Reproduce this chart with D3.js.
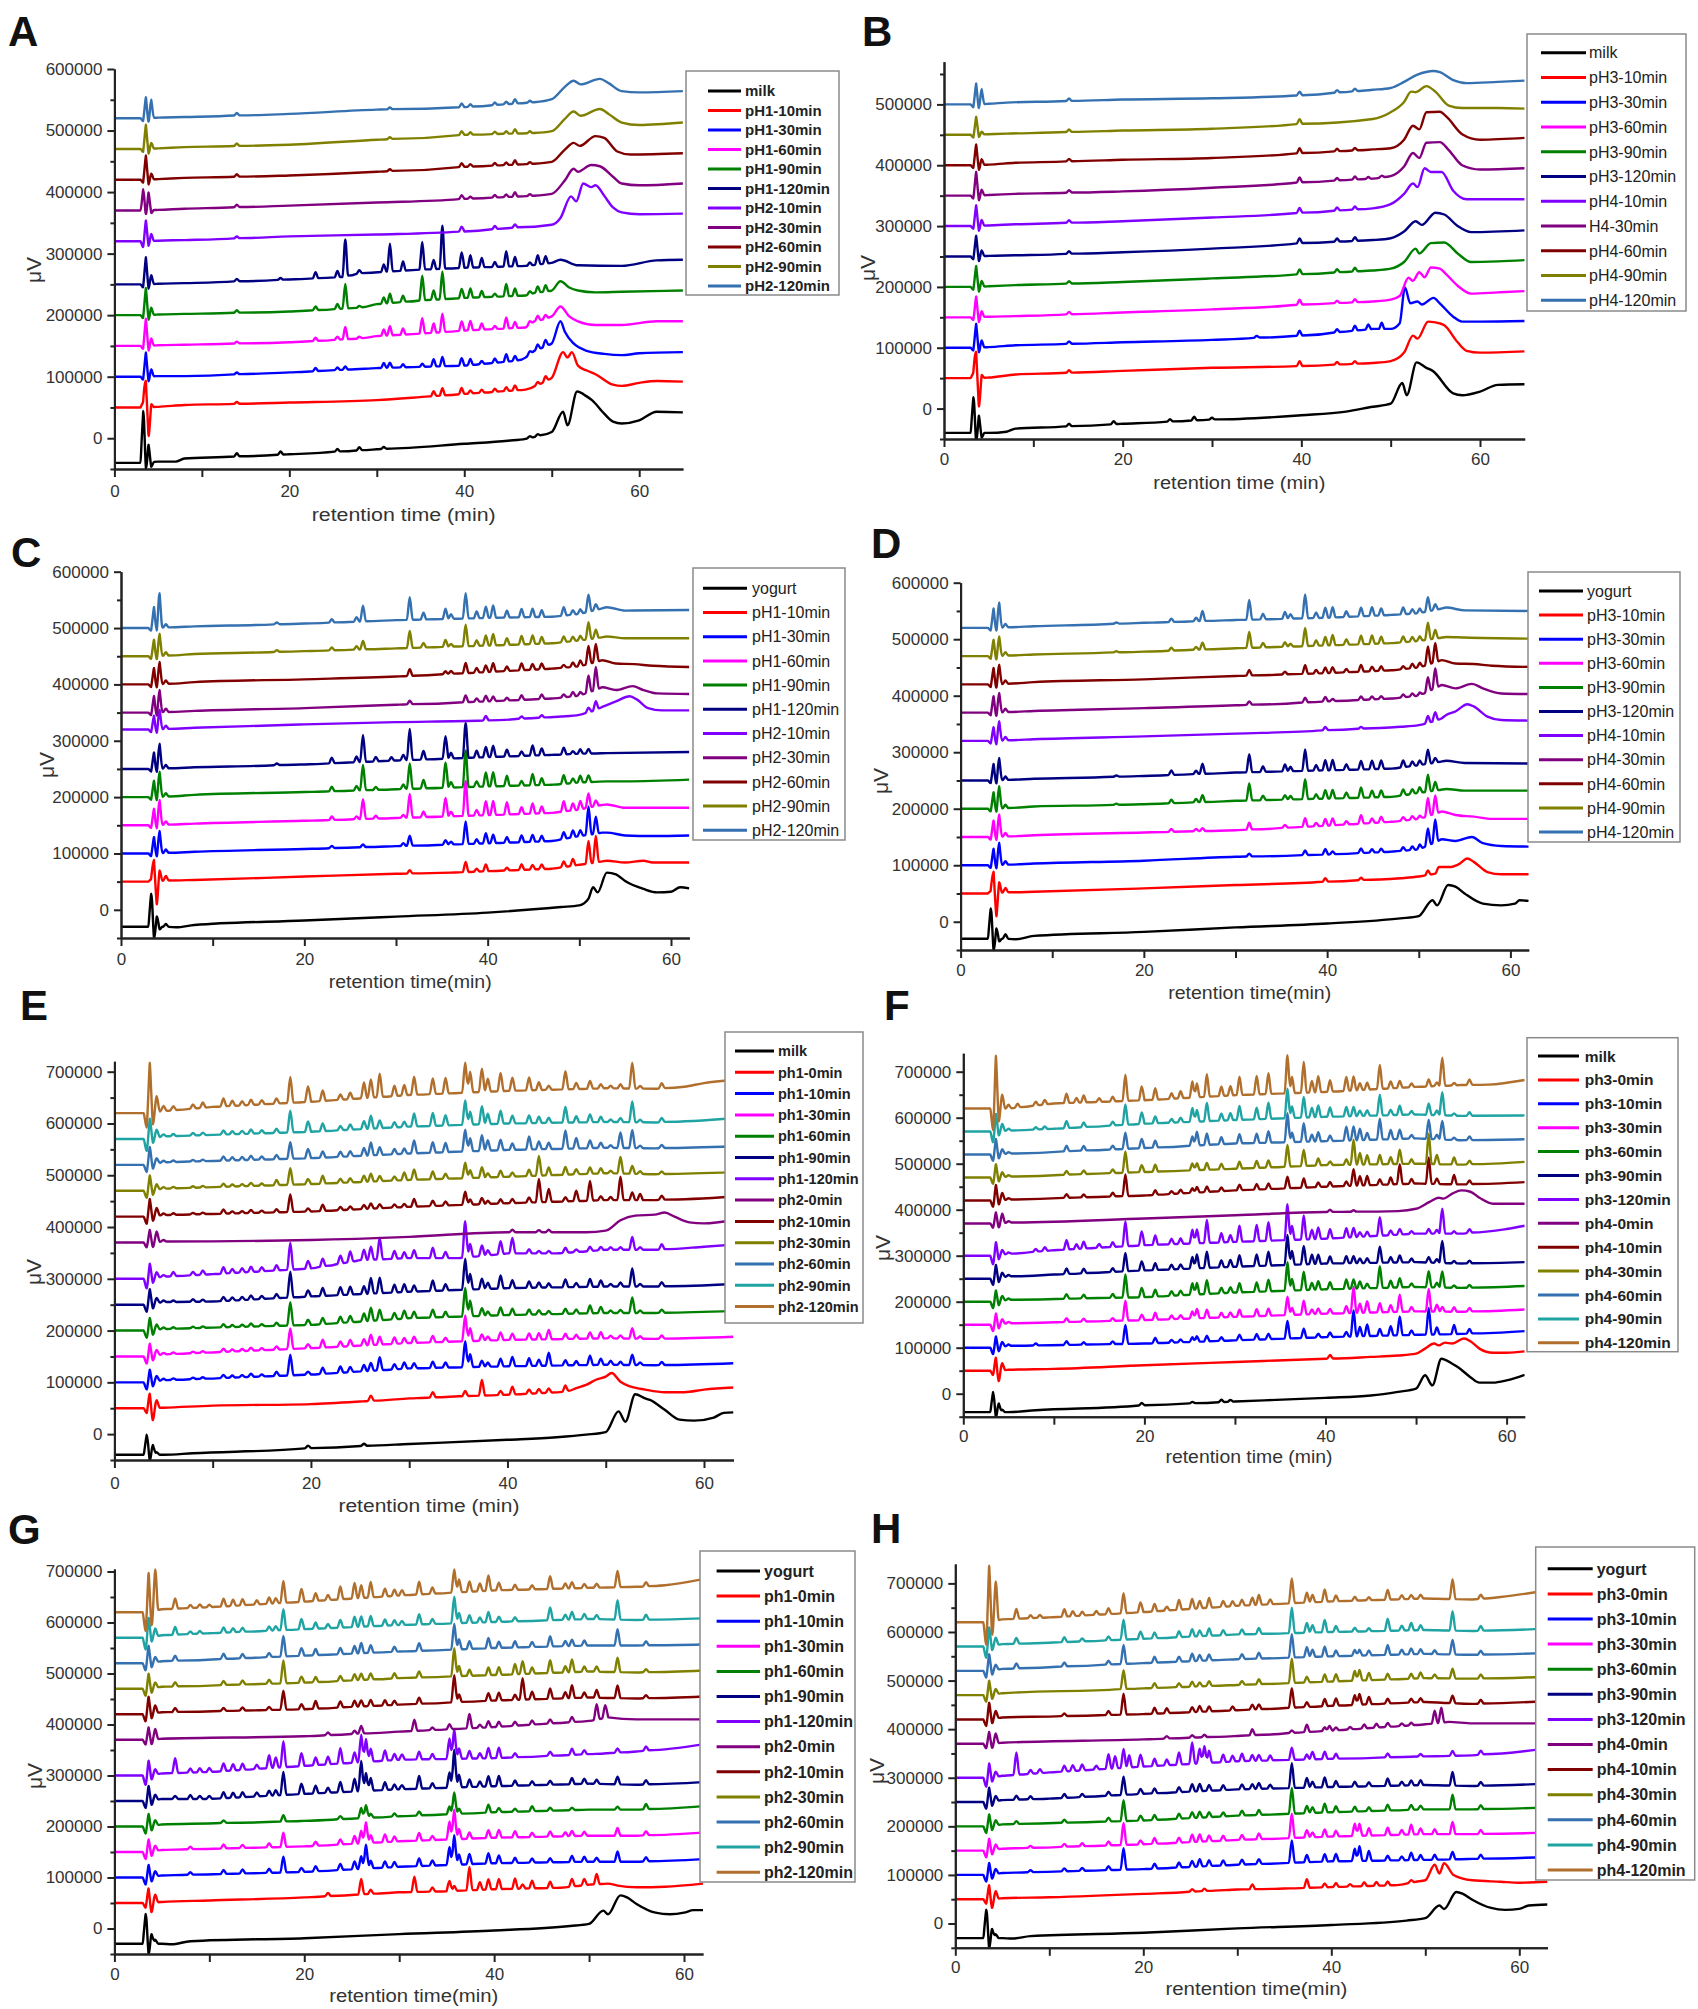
<!DOCTYPE html>
<html>
<head>
<meta charset="utf-8">
<script src="https://cdn.jsdelivr.net/npm/d3@7"></script>
<style>
  body { margin: 0; background: #fff; }
  text { font-family: "Liberation Sans", Arial, sans-serif; }
</style>
</head>
<body>
<div id="chart"></div>
<script>
// All values in thousands of µV (k), retention times in minutes.
// Each trace = baseline knots [t, v] + narrow peak heights on a shared list of peak times.

const colors11 = ['#000000', '#ff0000', '#0000ff', '#ff00ff', '#008000', '#000080', '#8000ff', '#800080', '#800000', '#808000', '#3571b0'];
const colors13 = colors11.concat(['#1fa3a3', '#b06f2c']);

// ---------- Panel A ----------
const labelsA = ['milk', 'pH1-10min', 'pH1-30min', 'pH1-60min', 'pH1-90min', 'pH1-120min', 'pH2-10min', 'pH2-30min', 'pH2-60min', 'pH2-90min', 'pH2-120min'];
const timesA = [3.3, 3.6, 3.9, 4.2, 14, 19, 23, 25.5, 26.4, 28, 30.8, 31.5, 33, 35.2, 36.5, 37.5, 39.7, 40.7, 42, 43.5, 44.8, 45.8, 47.5, 48.4, 49.3];
const heightsA = [
  [85, -15, 30, -8, 5, 5, 0, 4, 0, 5, 3, 0, 0, 0, 0, 0, 0, 0, 0, 0, 0, 0, 3, 3, 0],
  [10, 45, -50, 5, 3, 0, 0, 0, 0, 0, 0, 0, 0, 0, 8, 12, 10, 5, 5, 5, 6, 8, 0, 5, 8],
  [-5, 40, -10, 12, 3, 0, 5, 4, 5, 0, 8, 8, 5, 5, 12, 15, 12, 10, 5, 7, 12, 8, 5, 8, 10],
  [-5, 45, -10, 12, 3, 0, 5, 5, 20, 3, 10, 15, 10, 25, 15, 30, 15, 15, 10, 5, 18, 10, 5, 8, 6],
  [-5, 45, -10, 12, 4, 0, 6, 8, 40, 3, 10, 15, 10, 40, 15, 45, 15, 15, 10, 5, 20, 12, 5, 10, 10],
  [-5, 45, -10, 15, 4, 3, 10, 10, 60, 5, 12, 45, 15, 45, 15, 70, 25, 20, 15, 8, 25, 15, 5, 15, 12],
  [-10, 35, -10, 12, 3, 0, 0, 0, 0, 0, 0, 0, 0, 0, 0, 0, 8, 0, 0, 5, 0, 5, 0, 0, 0],
  [35, -10, 30, -5, 4, 0, 0, 0, 0, 0, 0, 0, 0, 0, 0, 0, 6, 3, 0, 4, 4, 7, 3, 0, 0],
  [-5, 40, -10, 10, 4, 0, 0, 0, 0, 0, 0, 3, 0, 0, 0, 0, 6, 4, 0, 4, 4, 7, 3, 0, 0],
  [-5, 40, -10, 10, 4, 0, 0, 0, 0, 0, 0, 3, 0, 0, 0, 0, 6, 4, 0, 4, 4, 7, 3, 0, 0],
  [-5, 35, -10, 30, 4, 0, 0, 0, 0, 0, 0, 3, 0, 0, 0, 0, 6, 4, 0, 4, 4, 7, 3, 0, 0]
];
const baseA = [
  [[0, -40], [3.1, -40], [5, -38], [7, -38], [8, -33], [20, -26], [30, -18], [40, -9], [45, -4], [47, -1], [48, 2], [50, 10], [51.3, 43], [51.8, 21], [52.9, 76], [54, 68], [54.6, 62], [56, 40], [57, 27], [58, 24], [60, 29], [62, 43], [65, 42]],
  [[0, 50], [3.1, 50], [5, 51], [8, 54], [20, 58], [30, 62], [36, 68], [47, 79], [48.5, 87], [50, 98], [51.3, 140], [51.8, 131], [52.3, 140], [53, 118], [54, 110], [55, 104], [57, 87], [58, 85], [60, 90], [62, 93], [65, 92]],
  [[0, 100], [3.1, 100], [5, 101], [8, 101], [20, 107], [30, 114], [40, 118], [46, 126], [47, 131], [48, 142], [49, 148], [50, 154], [51, 190], [51.5, 173], [52.5, 154], [54, 142], [56, 137], [58, 135], [60, 138], [65, 140]],
  [[0, 150], [3.1, 150], [5, 151], [8, 152], [20, 156], [28, 162], [30, 166], [35, 170], [40, 175], [47, 180], [48, 190], [49, 193], [50, 198], [51, 214], [52, 198], [53, 190], [55, 184], [58, 184], [62, 190], [65, 190]],
  [[0, 200], [3.1, 200], [5, 201], [8, 202], [20, 206], [28, 212], [30, 218], [35, 224], [40, 228], [47, 232], [48, 236], [50, 240], [51, 255], [52, 245], [53, 240], [55, 237], [58, 238], [65, 240]],
  [[0, 250], [3.1, 250], [5, 251], [8, 252], [20, 258], [26, 262], [28, 268], [35, 274], [40, 277], [47, 280], [50, 285], [51, 290], [53, 281], [58, 280], [62, 289], [65, 290]],
  [[0, 320], [3.1, 320], [5, 321], [8, 322], [20, 328], [30, 331], [40, 336], [50, 347], [51, 358], [52.2, 393], [52.8, 385], [53.6, 414], [54.5, 408], [55, 411], [56, 394], [57, 375], [58, 367], [60, 364], [65, 365]],
  [[0, 370], [2.8, 370], [5, 371], [8, 373], [20, 378], [30, 383], [40, 389], [48, 394], [50, 397], [51.5, 419], [52.5, 438], [53, 433], [54.5, 444], [55.5, 442], [57, 425], [58, 414], [60, 411], [65, 414]],
  [[0, 420], [3.1, 420], [5, 421], [8, 423], [20, 427], [30, 433], [40, 441], [48, 446], [50, 449], [51.5, 469], [52.5, 480], [53.2, 475], [55, 491], [56, 488], [57.5, 466], [59, 461], [65, 463]],
  [[0, 470], [3.1, 470], [5, 471], [8, 473], [20, 477], [30, 485], [40, 493], [48, 496], [50, 499], [51.5, 519], [52.5, 531], [53.3, 524], [55.5, 535], [56.5, 527], [58, 513], [60, 509], [65, 513]],
  [[0, 520], [3.1, 520], [5, 521], [8, 522], [20, 527], [30, 534], [40, 538], [48, 546], [50, 551], [51.5, 571], [52.5, 581], [53.3, 575], [55.5, 584], [56.5, 577], [58, 564], [60, 562], [65, 564]]
];

// ---------- Panel B ----------
const labelsB = ['milk', 'pH3-10min', 'pH3-30min', 'pH3-60min', 'pH3-90min', 'pH3-120min', 'pH4-10min', 'H4-30min', 'pH4-60min', 'pH4-90min', 'pH4-120min'];
const timesB = [3.3, 3.6, 3.9, 4.2, 14, 19, 25.3, 28, 30, 35, 39.8, 44, 46, 47.5, 49];
const heightsB = [
  [60, -20, 30, -8, 4, 5, 4, 6, 3, 0, 0, 0, 0, 0, 0],
  [10, 45, -50, 5, 4, 0, 0, 0, 0, 0, 8, 4, 4, 0, 0],
  [-5, 40, -10, 12, 4, 0, 0, 0, 0, 3, 8, 5, 8, 8, 10],
  [-5, 35, -10, 10, 4, 0, 0, 0, 0, 0, 8, 4, 5, 0, 0],
  [-5, 35, -10, 10, 4, 0, 0, 0, 0, 0, 8, 5, 6, 0, 0],
  [-5, 35, -10, 10, 4, 0, 0, 0, 0, 0, 8, 5, 6, 0, 0],
  [-5, 35, -10, 10, 4, 0, 0, 0, 0, 0, 8, 5, 5, 0, 0],
  [-5, 40, -10, 10, 4, 0, 0, 0, 0, 0, 8, 4, 5, 3, 3],
  [-5, 35, -10, 10, 4, 0, 0, 0, 0, 0, 8, 4, 4, 0, 0],
  [-5, 30, -5, 5, 4, 0, 0, 0, 0, 0, 8, 0, 0, 0, 0],
  [-5, 35, -10, 25, 4, 0, 0, 0, 0, 0, 6, 4, 4, 0, 0]
];
const baseB = [
  [[0, -40], [3.1, -40], [5, -40], [7, -38], [8, -33], [20, -25], [30, -18], [40, -11], [45, -5], [48, 3], [50, 8], [51.3, 42], [51.8, 22], [52.9, 76], [54, 67], [54.7, 62], [57, 25], [58, 22], [60, 28], [62, 39], [65, 40]],
  [[0, 50], [3.1, 50], [5, 51], [8, 56], [20, 62], [30, 67], [40, 70], [48, 75], [50, 78], [51.5, 92], [52.5, 120], [53, 115], [54.2, 143], [55.5, 140], [56, 137], [57.5, 109], [58.5, 95], [60, 92], [65, 94]],
  [[0, 100], [3.1, 100], [5, 101], [8, 104], [20, 109], [30, 113], [40, 120], [48, 131], [50, 131], [51, 140], [51.6, 199], [52.2, 173], [53, 176], [53.5, 171], [54.8, 182], [55.5, 173], [57, 151], [58, 143], [60, 143], [65, 144]],
  [[0, 150], [3.1, 150], [5, 151], [8, 152], [20, 158], [30, 163], [40, 171], [48, 176], [50, 179], [51, 185], [52, 215], [52.5, 210], [53.2, 224], [53.8, 216], [54.5, 232], [55.5, 230], [56.2, 221], [57.5, 202], [59, 189], [62, 191], [65, 193]],
  [[0, 200], [3.1, 200], [5, 201], [8, 203], [20, 208], [30, 214], [40, 221], [48, 227], [50, 230], [51.5, 241], [52.8, 263], [53.2, 255], [54.5, 272], [56, 273], [57.5, 255], [59, 241], [62, 242], [65, 244]],
  [[0, 250], [3.1, 250], [5, 251], [8, 252], [20, 257], [30, 263], [40, 272], [48, 277], [50, 280], [51.5, 291], [52.8, 308], [53.5, 302], [55, 322], [56, 319], [57.5, 300], [59, 290], [65, 293]],
  [[0, 300], [3.1, 300], [5, 301], [8, 303], [20, 308], [30, 314], [40, 322], [48, 329], [50, 336], [51.5, 353], [52.5, 370], [53, 364], [53.8, 395], [54.5, 389], [55.7, 389], [57, 358], [58.5, 344], [65, 344]],
  [[0, 350], [3.1, 350], [5, 351], [8, 353], [20, 357], [30, 363], [40, 372], [48, 378], [50, 382], [51.5, 398], [52.5, 420], [53.2, 412], [54, 437], [55.5, 438], [56.5, 425], [58, 400], [60, 393], [65, 395]],
  [[0, 400], [3.1, 400], [5, 401], [8, 404], [20, 409], [30, 412], [40, 420], [48, 426], [50, 428], [51.5, 442], [52.5, 465], [53.2, 459], [54, 487], [55.5, 488], [56.3, 479], [58, 451], [60, 442], [65, 445]],
  [[0, 450], [3.1, 450], [5, 451], [7, 452], [20, 457], [30, 460], [40, 468], [48, 476], [50, 487], [51.5, 504], [52.3, 521], [52.8, 520], [54, 530], [55, 521], [56.5, 498], [58, 494], [62, 494], [65, 493]],
  [[0, 500], [3.1, 500], [5, 501], [7, 503], [20, 508], [30, 510], [40, 515], [48, 524], [50, 527], [51.5, 537], [53, 549], [54.8, 555], [55.5, 553], [57, 540], [58.5, 535], [62, 537], [65, 539]]
];

// ---------- Panel C ----------
const labelsC = ['yogurt', 'pH1-10min', 'pH1-30min', 'pH1-60min', 'pH1-90min', 'pH1-120min', 'pH2-10min', 'pH2-30min', 'pH2-60min', 'pH2-90min', 'pH2-120min'];
const timesC = [3.3, 3.6, 3.9, 4.2, 4.9, 17, 23, 25.7, 26.4, 27.8, 29.5, 30.8, 31.5, 33, 35.4, 36, 37.6, 38.8, 39.8, 40.6, 42.1, 43.7, 44.9, 45.9, 48.3, 49.3, 50.1, 51, 51.8, 52.9];
const heightsC = [
  [60, -25, 20, -5, 5, 0, 0, 0, 0, 0, 0, 0, 0, 0, 0, 0, 0, 0, 0, 0, 0, 0, 0, 0, 0, 0, 0, 0, 0, 0],
  [5, 40, -45, 20, 8, 0, 0, 0, 0, 0, 0, 0, 6, 0, 0, 0, 18, 5, 12, 0, 5, 10, 8, 8, 10, 12, 0, 40, 47, 0],
  [-5, 30, -10, 40, 6, 0, 4, 0, 5, 0, 0, 5, 18, 0, 8, 5, 40, 8, 18, 15, 10, 12, 12, 10, 12, 12, 10, 50, 30, 0],
  [-5, 30, -10, 45, 6, 0, 6, 5, 35, 5, 0, 5, 42, 10, 33, 8, 62, 10, 25, 25, 22, 12, 18, 12, 18, 12, 15, 25, 10, 0],
  [-5, 30, -10, 45, 6, 0, 8, 8, 45, 5, 0, 8, 45, 15, 45, 10, 65, 10, 25, 25, 18, 8, 20, 12, 15, 8, 12, 12, 0, 0],
  [-5, 30, -10, 45, 6, 3, 10, 10, 48, 8, 6, 10, 55, 15, 40, 10, 62, 12, 18, 20, 12, 8, 18, 12, 12, 5, 8, 8, 0, 0],
  [-5, 25, -10, 35, 6, 0, 0, 0, 0, 0, 0, 0, 0, 0, 0, 0, 0, 0, 8, 0, 0, 4, 0, 4, 0, 0, 0, 8, 15, 0],
  [-5, 30, -10, 40, 6, 0, 0, 0, 0, 0, 0, 0, 6, 0, 0, 0, 12, 6, 10, 8, 5, 8, 0, 8, 5, 8, 6, 30, 40, 0],
  [-5, 30, -10, 40, 6, 0, 0, 0, 0, 0, 0, 0, 12, 0, 5, 5, 18, 8, 12, 15, 8, 12, 10, 10, 5, 8, 10, 32, 32, 0],
  [-5, 30, -10, 40, 6, 3, 5, 6, 15, 0, 0, 0, 30, 8, 12, 5, 38, 10, 18, 20, 12, 15, 15, 12, 10, 8, 8, 30, 15, 0],
  [-5, 38, -10, 62, 6, 3, 6, 8, 28, 0, 0, 0, 40, 12, 18, 8, 45, 12, 20, 22, 12, 15, 15, 12, 15, 8, 8, 30, 10, 0]
];
const baseC = [
  [[0, -30], [3.1, -30], [5, -30], [6, -31], [8, -27], [20, -19], [30, -12], [40, -5], [48, 5], [50, 8], [51, 20], [51.5, 40], [52, 31], [53, 66], [54, 63], [55, 51], [57, 37], [58.5, 31], [60, 32], [61, 40], [62, 38]],
  [[0, 50], [3.1, 50], [5, 52], [8, 53], [20, 59], [30, 64], [36, 66], [47, 73], [50, 80], [52.5, 86], [53, 87], [55, 84], [57, 87], [58, 84], [62, 84]],
  [[0, 100], [3.1, 100], [5, 101], [8, 103], [20, 108], [30, 113], [40, 118], [47, 122], [50, 131], [52.5, 137], [53, 137], [55, 132], [58, 131], [62, 132]],
  [[0, 150], [3.1, 150], [5, 151], [8, 153], [20, 158], [30, 163], [40, 168], [47, 172], [50, 178], [52, 185], [53, 187], [55, 181], [62, 181]],
  [[0, 200], [3.1, 200], [5, 201], [8, 204], [20, 209], [30, 214], [40, 219], [47, 222], [50, 226], [53, 228], [55, 228], [62, 231]],
  [[0, 250], [3.1, 250], [5, 251], [8, 253], [20, 258], [30, 265], [40, 271], [47, 275], [50, 277], [53, 278], [62, 280]],
  [[0, 320], [3.1, 320], [5, 321], [8, 323], [20, 329], [30, 333], [40, 336], [48, 343], [50, 346], [51.3, 352], [52.5, 360], [54, 370], [55.5, 379], [56.3, 373], [57.5, 358], [59, 354], [62, 354]],
  [[0, 350], [3.1, 350], [5, 351], [8, 353], [20, 358], [30, 364], [40, 370], [47, 375], [50, 380], [52.5, 395], [54, 390], [55.8, 397], [57, 390], [58.5, 384], [62, 383]],
  [[0, 400], [3.1, 400], [5, 401], [8, 404], [20, 409], [30, 414], [40, 422], [47, 428], [50, 432], [52.5, 443], [54, 437], [56, 436], [58, 433], [62, 431]],
  [[0, 450], [3.1, 450], [5, 451], [8, 454], [20, 459], [30, 464], [40, 469], [47, 473], [50, 478], [53, 485], [55, 482], [62, 482]],
  [[0, 500], [3.1, 500], [5, 501], [8, 503], [20, 508], [30, 514], [40, 518], [47, 520], [50, 525], [53, 537], [55, 531], [62, 532]]
];

// ---------- Panel D ----------
const labelsD = ['yogurt', 'pH3-10min', 'pH3-30min', 'pH3-60min', 'pH3-90min', 'pH3-120min', 'pH4-10min', 'pH4-30min', 'pH4-60min', 'pH4-90min', 'pH4-120min'];
const timesD = [3.3, 3.6, 3.9, 4.2, 4.9, 17, 23, 25.7, 26.4, 27.8, 29.5, 30.8, 31.5, 33, 35.4, 36, 37.6, 38.8, 39.8, 40.6, 42.1, 43.7, 44.9, 45.9, 48.3, 49.3, 50.1, 51, 51.8, 52.9];
const heightsD = [
  [55, -25, 20, -5, 8, 0, 0, 0, 0, 0, 0, 0, 0, 0, 0, 0, 0, 0, 0, 0, 0, 0, 0, 0, 0, 0, 0, 0, 0, 0],
  [5, 40, -45, 20, 8, 0, 0, 0, 0, 0, 0, 0, 0, 0, 0, 0, 0, 0, 6, 0, 0, 4, 0, 0, 0, 0, 0, 8, 0, 0],
  [-5, 30, -10, 40, 6, 0, 0, 0, 0, 0, 0, 0, 5, 0, 0, 0, 8, 0, 10, 5, 0, 8, 6, 6, 6, 6, 8, 30, 40, 0],
  [-5, 30, -10, 40, 6, 0, 5, 4, 5, 0, 0, 0, 12, 0, 5, 0, 15, 6, 12, 12, 6, 15, 8, 10, 6, 6, 5, 32, 32, 0],
  [-5, 30, -10, 40, 6, 2, 6, 6, 12, 0, 0, 0, 30, 8, 8, 6, 35, 8, 15, 15, 10, 18, 12, 12, 10, 8, 10, 30, 15, 0],
  [-5, 30, -10, 40, 6, 2, 8, 6, 18, 0, 0, 0, 32, 10, 12, 8, 38, 10, 18, 18, 10, 15, 15, 15, 12, 8, 8, 25, 8, 0],
  [-5, 25, -10, 35, 6, 0, 0, 0, 0, 0, 0, 0, 0, 0, 0, 0, 0, 0, 6, 0, 0, 3, 0, 0, 0, 0, 0, 12, 15, 0],
  [-5, 30, -10, 35, 6, 0, 0, 0, 0, 0, 0, 0, 6, 0, 0, 0, 8, 0, 8, 4, 0, 6, 5, 5, 5, 5, 5, 25, 35, 0],
  [-5, 30, -10, 35, 6, 0, 0, 0, 0, 0, 0, 0, 10, 0, 5, 0, 15, 6, 10, 10, 6, 12, 8, 8, 5, 8, 8, 32, 34, 0],
  [-5, 30, -10, 35, 6, 2, 5, 5, 12, 0, 0, 0, 28, 8, 8, 5, 32, 10, 15, 18, 10, 15, 15, 12, 10, 8, 8, 30, 15, 0],
  [-5, 35, -10, 45, 6, 2, 6, 6, 18, 0, 0, 0, 35, 10, 12, 8, 42, 10, 18, 18, 10, 15, 15, 12, 12, 8, 8, 25, 10, 0]
];
const baseD = [
  [[0, -30], [3.1, -30], [5, -30], [6, -31], [8, -25], [20, -18], [30, -10], [40, -3], [48, 6], [50, 10], [51.5, 38], [52, 29], [53.2, 65], [54, 62], [55, 50], [57, 32], [59, 29], [60.5, 32], [61, 38], [62, 37]],
  [[0, 50], [3.1, 50], [5, 52], [8, 53], [20, 59], [30, 65], [40, 71], [48, 77], [50, 80], [51.8, 85], [52.2, 97], [53.5, 97], [54.5, 103], [55.3, 112], [56, 106], [57.5, 88], [59, 84], [62, 84]],
  [[0, 100], [3.1, 100], [5, 101], [8, 103], [20, 108], [30, 115], [40, 119], [47, 124], [50, 128], [52.5, 146], [54, 143], [55.8, 150], [57, 139], [59, 134], [62, 133]],
  [[0, 150], [3.1, 150], [5, 151], [8, 153], [20, 158], [30, 162], [40, 170], [47, 177], [50, 182], [52.5, 195], [54, 189], [56, 186], [58, 182], [62, 182]],
  [[0, 200], [3.1, 200], [5, 201], [8, 204], [20, 208], [30, 214], [40, 218], [47, 221], [50, 228], [53, 235], [55, 232], [62, 232]],
  [[0, 250], [3.1, 250], [5, 251], [8, 253], [20, 258], [30, 264], [40, 268], [47, 271], [50, 277], [53, 285], [55, 281], [62, 280]],
  [[0, 320], [3.1, 320], [5, 321], [8, 323], [20, 328], [30, 333], [40, 339], [48, 345], [50, 348], [51.5, 354], [52.5, 360], [53, 366], [54, 372], [55.3, 385], [56, 381], [57.5, 363], [59, 357], [62, 356]],
  [[0, 370], [3.1, 370], [5, 371], [8, 373], [20, 378], [30, 383], [40, 390], [47, 395], [50, 400], [52.5, 419], [54, 413], [55.8, 421], [57, 413], [59, 404], [62, 403]],
  [[0, 420], [3.1, 420], [5, 421], [8, 424], [20, 429], [30, 435], [40, 440], [47, 445], [50, 450], [52.5, 463], [54, 457], [56, 456], [58, 453], [62, 451]],
  [[0, 470], [3.1, 470], [5, 471], [8, 473], [20, 478], [30, 484], [40, 489], [47, 493], [50, 497], [53, 504], [55, 503], [62, 501]],
  [[0, 520], [3.1, 520], [5, 521], [8, 523], [20, 529], [30, 534], [40, 538], [47, 543], [50, 546], [53, 556], [55, 551], [62, 550]]
];

// ---------- Panel E ----------
const labelsE = ['milk', 'ph1-0min', 'ph1-10min', 'ph1-30min', 'ph1-60min', 'ph1-90min', 'ph1-120min', 'ph2-0min', 'ph2-10min', 'ph2-30min', 'ph2-60min', 'ph2-90min', 'ph2-120min'];
const timesE = [3.3, 3.6, 3.9, 4.3,
  5, 6, 8, 9, 11.1, 12, 13, 13.9, 15, 16.5,
  17.9, 19.7, 21.2, 23, 24, 25.4, 26.1, 27, 28.5, 29.5,
  30.5, 32.4, 33.7, 35.7, 36.2, 37.4, 38, 39.3, 40.5, 42.2,
  43.2, 44.2, 45.9, 47, 48.4, 49.5, 50.5, 51.5, 52.7, 53.5,
  55.7];
const heightsE = [
  [40, -15, 20, 5, 0, 0, 0, 0, 0, 0, 0, 0, 0, 0, 0, 5, 0, 0, 0, 4, 0, 0, 0, 0, 0, 0, 0, 0, 0, 0, 0, 0, 0, 0, 0, 0, 0, 0, 0, 0, 0, 0, 0, 0, 0],
  [-10, 30, -25, 15, 0, 0, 0, 0, 0, 0, 0, 0, 0, 0, 0, 0, 0, 0, 0, 0, 10, 0, 0, 0, 0, 10, 0, 10, 0, 30, 0, 8, 15, 8, 8, 8, 12, 0, 0, 0, 0, 0, 0, 0, 0],
  [-15, 25, -10, 10, 3, 3, 3, 3, 6, 4, 4, 6, 4, 8, 40, 6, 12, 12, 10, 12, 15, 25, 10, 12, 10, 12, 10, 50, 25, 12, 8, 15, 18, 15, 12, 25, 10, 8, 18, 12, 8, 6, 20, 5, 6],
  [-15, 25, -10, 10, 3, 3, 3, 3, 6, 4, 4, 6, 4, 6, 40, 8, 15, 10, 12, 12, 20, 15, 12, 10, 12, 12, 8, 50, 25, 12, 8, 15, 12, 12, 12, 18, 10, 8, 12, 12, 5, 6, 20, 5, 6],
  [-15, 25, -10, 10, 3, 3, 3, 3, 6, 4, 4, 6, 4, 6, 45, 10, 12, 12, 12, 15, 25, 20, 12, 15, 12, 15, 10, 55, 30, 15, 8, 15, 12, 10, 8, 6, 10, 8, 15, 12, 5, 6, 30, 5, 6],
  [-15, 30, -10, 10, 3, 3, 5, 4, 8, 6, 6, 8, 6, 8, 50, 12, 15, 15, 15, 15, 30, 30, 15, 15, 12, 20, 12, 60, 30, 20, 12, 25, 15, 12, 10, 8, 15, 8, 15, 12, 5, 8, 35, 5, 8],
  [-20, 30, -10, 10, 3, 8, 6, 8, 12, 8, 8, 10, 8, 10, 52, 15, 15, 15, 20, 20, 25, 42, 15, 12, 15, 20, 12, 70, 25, 20, 10, 25, 30, 8, 5, 5, 10, 5, 8, 6, 5, 5, 25, 5, 10],
  [-10, 25, -10, 20, 3, 0, 0, 0, 0, 0, 0, 0, 0, 0, 0, 0, 0, 0, 0, 0, 0, 0, 0, 0, 0, 0, 0, 0, 0, 0, 0, 0, 5, 0, 4, 5, 0, 0, 0, 0, 0, 0, 0, 0, 0],
  [-15, 35, -10, 15, 3, 3, 3, 3, 8, 4, 4, 6, 4, 6, 34, 6, 12, 6, 6, 8, 10, 8, 6, 6, 15, 10, 8, 25, 10, 12, 6, 8, 8, 10, 45, 25, 8, 20, 38, 8, 6, 45, 15, 12, 8],
  [-15, 30, -10, 10, 3, 3, 3, 3, 6, 4, 4, 6, 4, 10, 32, 10, 15, 8, 8, 12, 15, 10, 8, 15, 20, 15, 10, 30, 15, 20, 8, 12, 8, 12, 38, 15, 15, 10, 12, 10, 5, 32, 15, 5, 5],
  [-15, 35, -10, 10, 3, 3, 3, 3, 8, 6, 6, 8, 6, 8, 32, 18, 12, 10, 10, 15, 25, 15, 10, 10, 25, 20, 18, 42, 25, 30, 20, 20, 12, 25, 15, 12, 35, 20, 15, 10, 5, 30, 35, 5, 6],
  [-25, 40, -10, 15, 4, 4, 5, 5, 8, 6, 6, 8, 6, 8, 42, 20, 15, 8, 10, 15, 25, 15, 10, 10, 25, 25, 20, 47, 25, 35, 20, 25, 15, 15, 12, 10, 30, 12, 15, 10, 5, 8, 40, 5, 8],
  [-30, 100, -25, 30, 10, 8, 8, 10, 15, 10, 8, 10, 8, 10, 50, 30, 20, 10, 12, 30, 35, 45, 20, 20, 35, 30, 30, 58, 40, 45, 25, 35, 25, 25, 15, 8, 35, 12, 15, 8, 5, 8, 50, 5, 10]
];
const baseE = [
  [[0, -40], [3.1, -40], [5, -40], [8, -37], [20, -27], [30, -19], [40, -11], [45, -6], [48, -1], [50, 4], [51.3, 44], [52, 24], [53, 77], [54, 69], [54.5, 66], [56, 47], [57.5, 28], [59, 26], [61, 32], [62, 41], [63, 42]],
  [[0, 50], [3.1, 50], [5, 51], [10, 55], [20, 58], [25, 63], [30, 69], [35, 73], [40, 76], [46, 82], [47, 89], [48, 95], [49, 105], [50, 111], [50.6, 118], [51.5, 101], [52.5, 92], [54, 86], [56, 81], [58, 81], [60, 86], [63, 90]],
  [[0, 100], [3.1, 100], [5, 104], [20, 115], [30, 127], [40, 131], [50, 134], [55, 133], [63, 137]],
  [[0, 150], [3.1, 150], [5, 154], [20, 166], [30, 176], [40, 182], [50, 185], [55, 184], [63, 188]],
  [[0, 200], [3.1, 200], [5, 203], [20, 211], [30, 224], [40, 230], [50, 234], [55, 234], [63, 238]],
  [[0, 250], [3.1, 250], [5, 255], [10, 256], [20, 266], [30, 275], [40, 282], [50, 285], [55, 285], [63, 290]],
  [[0, 300], [3.1, 300], [5, 304], [10, 309], [20, 320], [25, 336], [30, 340], [35, 340], [40, 349], [45, 349], [50, 356], [55, 356], [60, 362], [63, 366]],
  [[0, 370], [3.1, 370], [5, 372], [20, 375], [30, 381], [40, 390], [48, 390], [50, 393], [51.5, 413], [53, 422], [55, 424], [56, 428], [57, 420], [58.5, 409], [60, 407], [63, 413]],
  [[0, 420], [3.1, 420], [5, 423], [20, 430], [30, 439], [40, 446], [50, 452], [55, 452], [63, 459]],
  [[0, 470], [3.1, 470], [5, 474], [20, 483], [30, 491], [40, 497], [50, 504], [55, 502], [63, 506]],
  [[0, 520], [3.1, 520], [5, 525], [20, 533], [30, 542], [40, 549], [50, 553], [55, 552], [63, 556]],
  [[0, 570], [3.1, 570], [5, 575], [20, 584], [30, 594], [40, 600], [50, 603], [55, 602], [63, 610]],
  [[0, 620], [3.1, 620], [5, 624], [10, 632], [20, 642], [30, 655], [40, 663], [50, 668], [55, 667], [58, 671], [60, 678], [63, 684]]
];

// ---------- Panel F ----------
const labelsF = ['milk', 'ph3-0min', 'ph3-10min', 'ph3-30min', 'ph3-60min', 'ph3-90min', 'ph3-120min', 'ph4-0min', 'ph4-10min', 'ph4-30min', 'ph4-60min', 'ph4-90min', 'ph4-120min'];
const timesF = [3.3, 3.6, 3.9, 4.3,
  5, 6, 8, 9, 11.4, 12.5, 13.3, 15, 16.5,
  17.9, 19.7, 21.2, 23, 24, 25.3, 25.8, 26.9, 28.5, 29.5,
  30.5, 32.4, 33.7, 35.8, 36.3, 37.6, 38.5, 39.2, 40.5, 42.3,
  43.1, 43.8, 44.6, 46, 47.2, 48.2, 49.5, 51.4, 52.3, 52.9,
  54.2, 55.9];
const heightsF = [
  [45, -15, 20, 5, 0, 0, 0, 0, 0, 0, 0, 0, 0, 0, 5, 0, 0, 0, 3, 0, 0, 5, 4, 0, 0, 0, 0, 0, 0, 0, 0, 0, 0, 0, 0, 0, 0, 0, 0, 0, 0, 0, 0, 0, 0],
  [-10, 30, -25, 15, 0, 0, 0, 0, 0, 0, 0, 0, 0, 0, 0, 0, 0, 0, 0, 0, 0, 0, 0, 0, 0, 0, 0, 0, 0, 0, 0, 8, 0, 0, 0, 0, 0, 0, 0, 0, 0, 0, 0, 0, 0],
  [-15, 25, -10, 10, 3, 0, 4, 0, 8, 0, 5, 0, 6, 41, 0, 12, 6, 6, 10, 12, 12, 8, 0, 12, 12, 12, 38, 0, 20, 0, 8, 10, 10, 57, 20, 25, 15, 20, 41, 10, 58, 15, 0, 20, 10],
  [-15, 25, -10, 10, 3, 0, 0, 0, 8, 0, 6, 0, 6, 43, 12, 15, 8, 8, 15, 20, 18, 10, 10, 15, 15, 15, 40, 15, 30, 10, 12, 10, 15, 57, 20, 25, 20, 15, 37, 10, 49, 15, 10, 10, 8],
  [-15, 25, -10, 10, 3, 0, 0, 0, 10, 0, 8, 0, 8, 50, 20, 15, 10, 10, 25, 25, 30, 12, 12, 20, 20, 25, 62, 25, 40, 15, 18, 15, 20, 20, 15, 10, 47, 15, 20, 8, 35, 10, 35, 5, 6],
  [-15, 30, -10, 10, 3, 0, 0, 0, 12, 0, 10, 0, 8, 40, 20, 15, 10, 10, 25, 30, 35, 15, 15, 25, 25, 30, 65, 30, 40, 20, 20, 15, 15, 15, 10, 10, 35, 12, 15, 8, 12, 8, 48, 5, 6],
  [-20, 30, -10, 10, 3, 0, 6, 8, 20, 10, 15, 8, 10, 54, 30, 20, 12, 12, 30, 30, 50, 20, 15, 35, 35, 40, 78, 30, 52, 20, 25, 20, 20, 20, 10, 10, 40, 10, 12, 6, 10, 8, 54, 5, 8],
  [-10, 25, -10, 20, 3, 0, 0, 0, 0, 0, 0, 0, 0, 0, 0, 0, 0, 0, 0, 0, 0, 0, 0, 0, 0, 0, 0, 0, 0, 0, 0, 5, 0, 3, 0, 0, 0, 0, 0, 0, 0, 0, 0, 0, 0],
  [-15, 35, -10, 15, 3, 0, 0, 0, 8, 0, 6, 0, 8, 47, 0, 10, 6, 8, 10, 12, 12, 8, 0, 12, 12, 12, 25, 0, 20, 0, 10, 10, 10, 36, 20, 20, 12, 15, 43, 10, 57, 12, 0, 20, 8],
  [-15, 30, -10, 10, 3, 0, 0, 0, 8, 0, 8, 0, 8, 46, 15, 15, 0, 0, 15, 15, 15, 12, 0, 15, 15, 15, 47, 0, 35, 0, 15, 8, 12, 54, 25, 20, 20, 15, 31, 10, 65, 20, 0, 15, 8],
  [-15, 35, -10, 10, 3, 0, 0, 0, 12, 0, 10, 0, 8, 35, 20, 15, 0, 0, 20, 30, 25, 15, 0, 20, 20, 25, 63, 20, 40, 15, 20, 12, 30, 30, 25, 15, 45, 20, 20, 8, 42, 10, 40, 5, 8],
  [-25, 40, -10, 15, 4, 0, 5, 6, 15, 0, 10, 0, 8, 44, 25, 15, 8, 10, 30, 25, 40, 15, 15, 30, 25, 35, 64, 25, 45, 20, 25, 20, 20, 20, 12, 12, 45, 12, 20, 8, 25, 10, 50, 5, 8],
  [-50, 120, -30, 30, 8, 8, 8, 10, 20, 10, 15, 8, 10, 57, 30, 25, 12, 15, 35, 30, 49, 20, 20, 40, 40, 45, 83, 35, 67, 25, 35, 25, 30, 30, 15, 15, 52, 15, 15, 8, 15, 8, 61, 5, 12]
];
const baseF = [
  [[0, -40], [3.1, -40], [5, -40], [8, -36], [20, -25], [30, -17], [40, -9], [45, -4], [48, 4], [50, 11], [51, 40], [51.8, 18], [52.8, 76], [54, 65], [54.6, 58], [56, 36], [57, 24], [58.5, 24], [60, 29], [62, 41]],
  [[0, 50], [3.1, 50], [5, 52], [10, 54], [20, 62], [30, 69], [40, 76], [45, 80], [48, 83], [50, 87], [51, 98], [52, 109], [52.5, 105], [53.2, 111], [54, 109], [55.3, 120], [56, 114], [57, 98], [58.5, 89], [60, 89], [62, 92]],
  [[0, 100], [3.1, 100], [5, 104], [20, 109], [30, 116], [40, 123], [50, 128], [55, 130], [62, 136]],
  [[0, 150], [3.1, 150], [5, 153], [20, 160], [30, 167], [40, 174], [50, 179], [55, 178], [62, 183]],
  [[0, 200], [3.1, 200], [5, 204], [20, 210], [30, 220], [40, 227], [50, 232], [55, 230], [62, 234]],
  [[0, 250], [3.1, 250], [5, 255], [10, 259], [20, 268], [30, 276], [40, 283], [50, 286], [55, 283], [62, 286]],
  [[0, 300], [3.1, 300], [5, 304], [10, 312], [20, 323], [30, 330], [40, 337], [50, 348], [55, 348], [60, 358], [62, 365]],
  [[0, 370], [3.1, 370], [5, 372], [20, 381], [30, 388], [40, 395], [48, 397], [50, 402], [51.5, 417], [52.5, 426], [53, 424], [54, 435], [55, 442], [56, 439], [57, 426], [58.5, 413], [62, 413]],
  [[0, 420], [3.1, 420], [5, 422], [20, 431], [30, 442], [40, 450], [50, 457], [55, 455], [62, 460]],
  [[0, 470], [3.1, 470], [5, 472], [20, 482], [30, 489], [40, 497], [50, 500], [55, 498], [62, 504]],
  [[0, 520], [3.1, 520], [5, 522], [20, 534], [30, 544], [40, 549], [50, 555], [55, 551], [62, 553]],
  [[0, 570], [3.1, 570], [5, 572], [10, 576], [20, 587], [30, 595], [40, 602], [50, 607], [55, 604], [62, 605]],
  [[0, 620], [3.1, 620], [5, 620], [10, 631], [20, 638], [30, 649], [40, 656], [50, 667], [55, 671], [58, 672], [62, 682]]
];

// ---------- Panel G ----------
const labelsG = ['yogurt', 'ph1-0min', 'ph1-10min', 'ph1-30min', 'ph1-60min', 'ph1-90min', 'ph1-120min', 'ph2-0min', 'ph2-10min', 'ph2-30min', 'ph2-60min', 'ph2-90min', 'ph2-120min'];
const timesG = [3.3, 3.6, 3.9, 4.3,
  6.4, 8, 9, 10, 11.5, 12.5, 13.5, 15, 16.3, 17,
  17.8, 19.7, 21.2, 22.5, 23.8, 25.3, 26, 26.5, 27, 28.5,
  29.5, 30.3, 31.6, 32.1, 33.5, 35.3, 35.8, 36.3, 37.4, 38.5,
  39.4, 40.5, 42.2, 43, 44, 45.9, 47.5, 48.2, 49.5, 50.8,
  51.7, 53, 56];
const heightsG = [
  [60, -25, 20, 8, 0, 0, 0, 0, 0, 0, 0, 0, 0, 0, 0, 0, 0, 0, 0, 0, 0, 0, 0, 0, 0, 0, 0, 0, 0, 0, 0, 0, 0, 0, 0, 0, 0, 0, 0, 0, 0, 0, 0, 0, 0, 0, 0],
  [-10, 30, -20, 15, 0, 0, 0, 0, 0, 0, 0, 0, 0, 0, 0, 0, 0, 6, 0, 0, 30, 0, 8, 0, 0, 0, 30, 0, 8, 20, 10, 0, 46, 15, 20, 20, 20, 8, 15, 12, 0, 15, 12, 20, 0, 0, 0],
  [-15, 25, -10, 10, 0, 5, 0, 0, 8, 0, 8, 0, 8, 0, 31, 8, 10, 0, 12, 15, 25, 47, 15, 12, 10, 0, 0, 15, 10, 35, 58, 20, 20, 0, 20, 15, 10, 0, 8, 8, 0, 12, 10, 8, 0, 20, 8],
  [-15, 25, -10, 10, 0, 5, 0, 0, 8, 0, 6, 0, 8, 0, 28, 0, 8, 0, 10, 15, 25, 41, 15, 15, 10, 0, 0, 15, 8, 35, 58, 20, 12, 0, 15, 15, 12, 0, 8, 10, 8, 10, 8, 0, 0, 15, 8],
  [-15, 25, -10, 10, 0, 0, 0, 0, 5, 0, 0, 0, 0, 0, 12, 0, 0, 0, 6, 0, 20, 25, 8, 0, 6, 0, 0, 8, 0, 15, 42, 10, 0, 0, 15, 8, 6, 0, 10, 6, 0, 5, 0, 0, 0, 6, 10],
  [-15, 30, -10, 10, 6, 8, 6, 6, 12, 10, 10, 8, 10, 10, 45, 20, 15, 10, 20, 25, 59, 35, 25, 15, 10, 8, 0, 25, 10, 30, 74, 25, 15, 10, 20, 20, 10, 0, 8, 8, 0, 12, 10, 8, 0, 15, 8],
  [-20, 30, -10, 10, 29, 8, 8, 8, 15, 12, 12, 8, 25, 20, 51, 25, 15, 15, 30, 20, 54, 45, 25, 20, 12, 10, 0, 15, 10, 40, 58, 20, 15, 10, 20, 20, 8, 0, 0, 8, 0, 12, 8, 0, 0, 8, 8],
  [-10, 25, -10, 20, 0, 0, 0, 0, 0, 0, 0, 0, 0, 0, 0, 0, 0, 5, 0, 6, 15, 0, 0, 0, 0, 0, 22, 0, 5, 10, 0, 0, 28, 6, 12, 10, 8, 0, 8, 8, 0, 10, 0, 30, 25, 0, 0],
  [-15, 35, -10, 15, 8, 0, 0, 0, 6, 0, 6, 0, 6, 0, 37, 10, 15, 0, 12, 12, 12, 0, 12, 10, 8, 0, 0, 12, 0, 0, 53, 15, 0, 0, 15, 15, 10, 42, 15, 20, 12, 25, 10, 15, 0, 25, 6],
  [-15, 30, -10, 10, 8, 0, 0, 0, 8, 0, 8, 0, 8, 0, 45, 12, 10, 0, 10, 12, 12, 0, 12, 0, 10, 0, 0, 12, 0, 0, 55, 20, 12, 0, 15, 15, 20, 25, 12, 25, 12, 25, 10, 10, 0, 28, 6],
  [-15, 35, -10, 10, 10, 0, 0, 0, 10, 0, 8, 0, 8, 0, 40, 15, 12, 0, 12, 15, 20, 0, 15, 0, 10, 0, 0, 15, 0, 0, 50, 20, 15, 0, 20, 12, 12, 0, 10, 20, 10, 12, 10, 0, 0, 32, 8],
  [-25, 40, -10, 15, 15, 5, 5, 0, 10, 8, 8, 0, 8, 8, 41, 20, 12, 8, 15, 20, 20, 0, 20, 12, 10, 8, 0, 20, 10, 0, 52, 20, 15, 10, 20, 10, 8, 0, 0, 25, 10, 15, 10, 8, 0, 38, 10],
  [-40, 80, -30, 80, 20, 6, 6, 5, 15, 12, 12, 8, 12, 10, 43, 25, 15, 10, 25, 30, 25, 0, 30, 15, 12, 10, 0, 25, 12, 0, 45, 25, 20, 15, 30, 15, 10, 0, 8, 25, 10, 12, 8, 8, 0, 32, 8]
];
const baseG = [
  [[0, -30], [3.1, -30], [5, -30], [6, -31], [8, -25], [20, -19], [30, -11], [40, -4], [48, 5], [50, 9], [51.5, 35], [52, 28], [53.3, 65], [54, 61], [55, 48], [57, 31], [58.5, 28], [60, 31], [61, 36], [62, 36]],
  [[0, 50], [3.1, 50], [5, 52], [10, 55], [20, 61], [30, 71], [35, 73], [40, 77], [47, 80], [50, 86], [52, 88], [53, 84], [55, 81], [58, 82], [62, 88]],
  [[0, 100], [3.1, 100], [5, 104], [20, 111], [30, 121], [40, 128], [50, 131], [55, 131], [62, 136]],
  [[0, 150], [3.1, 150], [5, 154], [20, 161], [30, 171], [40, 178], [50, 182], [55, 182], [62, 188]],
  [[0, 200], [3.1, 200], [5, 204], [20, 211], [30, 220], [40, 228], [50, 233], [55, 233], [62, 240]],
  [[0, 250], [3.1, 250], [5, 254], [10, 254], [20, 264], [30, 273], [40, 279], [50, 284], [55, 282], [62, 287]],
  [[0, 300], [3.1, 300], [5, 304], [10, 307], [20, 319], [30, 331], [40, 334], [50, 342], [55, 347], [62, 361]],
  [[0, 370], [3.1, 370], [5, 372], [20, 377], [30, 386], [40, 395], [50, 407], [52, 414], [55, 410], [62, 410]],
  [[0, 420], [3.1, 420], [5, 424], [20, 430], [30, 439], [40, 447], [50, 453], [55, 451], [62, 455]],
  [[0, 470], [3.1, 470], [5, 474], [20, 482], [30, 491], [40, 497], [50, 504], [55, 502], [62, 506]],
  [[0, 520], [3.1, 520], [5, 524], [20, 535], [30, 543], [40, 550], [50, 555], [55, 555], [62, 557]],
  [[0, 570], [3.1, 570], [5, 575], [10, 579], [20, 587], [30, 595], [40, 601], [50, 607], [55, 605], [62, 608]],
  [[0, 620], [3.1, 620], [5, 626], [10, 630], [20, 641], [30, 653], [40, 663], [50, 668], [55, 670], [58, 673], [62, 685]]
];

// ---------- Panel H ----------
const labelsH = ['yogurt', 'ph3-0min', 'ph3-10min', 'ph3-30min', 'ph3-60min', 'ph3-90min', 'ph3-120min', 'ph4-0min', 'ph4-10min', 'ph4-30min', 'ph4-60min', 'ph4-90min', 'ph4-120min'];
const timesH = [3.3, 3.6, 3.9, 4.3,
  6.5, 8, 9, 11.6, 12.5, 13.5, 15, 16.3, 17, 17.9,
  18.5, 19.7, 21.2, 22.5, 23.8, 25.2, 26, 26.5, 27, 28.5,
  29.5, 30.5, 31.6, 32.3, 33.5, 35.8, 37.4, 38, 39.3, 39.8,
  40.5, 42, 42.5, 43, 43.5, 44, 44.8, 46, 47.5, 48.5,
  49.5, 51, 51.7, 52.9, 55.9];
const heightsH = [
  [60, -25, 20, 8, 0, 0, 0, 0, 0, 0, 0, 0, 0, 0, 0, 0, 0, 0, 0, 0, 0, 0, 0, 0, 0, 0, 0, 0, 0, 0, 0, 0, 0, 0, 0, 0, 0, 0, 0, 0, 0, 0, 0, 0, 0, 0, 0, 0, 0],
  [-10, 30, -20, 15, 0, 0, 0, 0, 0, 0, 0, 0, 0, 0, 0, 0, 0, 0, 0, 5, 0, 5, 0, 0, 0, 0, 10, 0, 0, 0, 18, 0, 8, 0, 8, 5, 0, 0, 8, 0, 8, 8, 0, 5, 0, 0, 0, 0, 0],
  [-15, 25, -10, 10, 0, 4, 0, 6, 0, 6, 0, 8, 0, 44, 0, 0, 10, 0, 10, 12, 15, 0, 12, 10, 0, 10, 0, 10, 0, 46, 15, 0, 15, 0, 15, 0, 25, 30, 0, 20, 0, 10, 8, 15, 10, 10, 0, 15, 8],
  [-15, 25, -10, 10, 0, 4, 0, 6, 0, 6, 0, 8, 0, 45, 0, 8, 12, 0, 10, 15, 15, 0, 12, 10, 0, 10, 0, 12, 0, 50, 15, 10, 15, 0, 12, 0, 25, 25, 0, 15, 0, 15, 10, 20, 12, 10, 0, 25, 8],
  [-15, 25, -10, 10, 6, 0, 0, 6, 0, 0, 0, 8, 0, 43, 0, 10, 10, 0, 10, 12, 12, 0, 10, 8, 0, 10, 0, 10, 0, 53, 15, 12, 18, 0, 12, 0, 10, 0, 0, 8, 0, 12, 0, 10, 8, 0, 0, 30, 8],
  [-15, 30, -10, 10, 8, 6, 0, 8, 0, 6, 0, 8, 0, 37, 0, 10, 10, 0, 10, 15, 15, 0, 12, 10, 0, 10, 10, 12, 8, 51, 20, 12, 20, 0, 12, 0, 10, 0, 0, 8, 0, 15, 8, 10, 10, 0, 0, 28, 8],
  [-20, 30, -10, 10, 46, 8, 8, 12, 12, 12, 8, 30, 25, 39, 25, 25, 15, 12, 25, 44, 30, 35, 25, 15, 12, 15, 12, 12, 10, 25, 10, 15, 15, 0, 10, 0, 0, 0, 0, 0, 0, 8, 0, 0, 5, 0, 0, 10, 8],
  [-10, 25, -10, 20, 0, 0, 0, 0, 0, 0, 0, 0, 0, 0, 0, 0, 0, 5, 0, 5, 0, 5, 0, 0, 0, 0, 12, 0, 0, 5, 15, 0, 8, 10, 6, 5, 0, 0, 8, 0, 8, 8, 5, 5, 0, 26, 31, 0, 0],
  [-15, 35, -10, 15, 0, 0, 0, 5, 0, 0, 0, 8, 0, 43, 0, 0, 12, 10, 0, 10, 12, 0, 10, 0, 8, 0, 10, 10, 0, 40, 10, 0, 15, 0, 15, 0, 20, 22, 0, 15, 0, 10, 0, 8, 8, 0, 0, 15, 8],
  [-15, 30, -10, 10, 0, 0, 0, 0, 0, 0, 0, 0, 0, 39, 0, 0, 10, 0, 8, 10, 8, 0, 10, 0, 0, 8, 0, 10, 0, 50, 12, 0, 15, 0, 15, 0, 20, 22, 0, 15, 0, 12, 0, 10, 12, 8, 0, 20, 8],
  [-15, 35, -10, 10, 10, 0, 0, 8, 0, 0, 0, 8, 0, 39, 0, 0, 12, 0, 10, 15, 12, 0, 12, 0, 0, 10, 0, 12, 0, 48, 20, 15, 20, 0, 12, 0, 12, 12, 0, 10, 0, 20, 10, 12, 10, 8, 0, 30, 8],
  [-25, 40, -10, 15, 12, 0, 0, 10, 0, 6, 0, 8, 0, 41, 0, 15, 12, 0, 12, 15, 12, 0, 15, 10, 0, 10, 0, 12, 0, 52, 20, 15, 25, 0, 12, 0, 8, 0, 0, 6, 0, 25, 10, 15, 10, 0, 0, 40, 10],
  [-50, 120, -30, 80, 20, 6, 6, 15, 10, 8, 8, 12, 0, 41, 0, 20, 15, 8, 20, 20, 15, 0, 20, 12, 10, 12, 15, 20, 10, 51, 20, 15, 25, 0, 12, 0, 8, 0, 0, 6, 0, 20, 8, 8, 8, 0, 0, 41, 8]
];
const baseH = [
  [[0, -30], [3.1, -30], [5, -30], [6, -31], [8, -26], [20, -19], [30, -10], [40, -3], [48, 6], [50, 11], [51.5, 37], [52, 30], [53.3, 65], [54, 61], [55, 49], [57, 32], [58.5, 28], [60, 30], [61, 37], [63, 39]],
  [[0, 50], [3.1, 50], [5, 52], [10, 54], [20, 61], [30, 70], [35, 72], [40, 75], [47, 79], [49, 86], [50, 89], [51, 121], [51.5, 103], [52, 124], [53, 100], [55, 89], [58, 86], [60, 84], [63, 86]],
  [[0, 100], [3.1, 100], [5, 104], [20, 112], [30, 121], [40, 128], [50, 131], [55, 133], [63, 137]],
  [[0, 150], [3.1, 150], [5, 154], [20, 163], [30, 172], [40, 179], [50, 184], [55, 184], [63, 187]],
  [[0, 200], [3.1, 200], [5, 204], [20, 212], [30, 222], [40, 229], [50, 235], [55, 235], [63, 239]],
  [[0, 250], [3.1, 250], [5, 254], [10, 257], [20, 267], [30, 276], [40, 281], [50, 285], [55, 283], [63, 288]],
  [[0, 300], [3.1, 300], [5, 304], [10, 311], [20, 323], [30, 334], [40, 339], [50, 344], [55, 346], [63, 361]],
  [[0, 370], [3.1, 370], [5, 372], [20, 379], [30, 386], [40, 397], [50, 410], [52.5, 415], [55, 412], [63, 412]],
  [[0, 420], [3.1, 420], [5, 424], [20, 431], [30, 439], [40, 448], [50, 456], [55, 452], [63, 458]],
  [[0, 470], [3.1, 470], [5, 474], [20, 484], [30, 491], [40, 498], [50, 505], [55, 504], [63, 508]],
  [[0, 520], [3.1, 520], [5, 524], [20, 536], [30, 544], [40, 550], [50, 555], [55, 553], [63, 557]],
  [[0, 570], [3.1, 570], [5, 575], [10, 578], [20, 586], [30, 595], [40, 600], [50, 604], [55, 602], [63, 607]],
  [[0, 620], [3.1, 620], [5, 626], [10, 630], [20, 641], [30, 654], [40, 663], [50, 669], [55, 667], [58, 672], [63, 686]]
];

// ---------- layout of the 8 panels ----------
const panels = [
  { key: 'A', labels: labelsA, colors: colors11, times: timesA, heights: heightsA, base: baseA,
    x0: 114.4, x60: 639.2, tEnd: 65, yB: 469, vRef: 600, yRef: 69, vTop: 600,
    tickPad: 8, titleDy: 52, title: 'retention time (min)', titleLen: 184, letter: [8, 46], mu: [41, 270],
    legend: { x: 686, y: 71, w: 153, h: 224, r0: 20, rh: 19.5, l0: 22, l1: 55, tx: 59, fs: 15, bold: true } },
  { key: 'B', labels: labelsB, colors: colors11, times: timesB, heights: heightsB, base: baseB,
    x0: 944, x60: 1480, tEnd: 65, yB: 439, vRef: 500, yRef: 104.4, vTop: 570,
    tickPad: 6, titleDy: 50, title: 'retention time (min)', titleLen: 172, letter: [862, 46], mu: [875, 268],
    legend: { x: 1527, y: 34, w: 159, h: 277, r0: 18.7, rh: 24.76, l0: 14, l1: 59, tx: 62, fs: 16, bold: false } },
  { key: 'C', labels: labelsC, colors: colors11, times: timesC, heights: heightsC, base: baseC,
    x0: 121, x60: 671, tEnd: 62, yB: 938, vRef: 600, yRef: 571.7, vTop: 600,
    tickPad: 7, titleDy: 50, title: 'retention time(min)', titleLen: 163, letter: [11, 567], mu: [54, 765],
    legend: { x: 693, y: 568, w: 152, h: 272, r0: 20.3, rh: 24.2, l0: 10, l1: 54, tx: 59, fs: 16, bold: false } },
  { key: 'D', labels: labelsD, colors: colors11, times: timesD, heights: heightsD, base: baseD,
    x0: 960.6, x60: 1510.4, tEnd: 62, yB: 950, vRef: 600, yRef: 582.7, vTop: 600,
    tickPad: 6, titleDy: 49, title: 'retention time(min)', titleLen: 163, letter: [871, 558], mu: [888, 781],
    legend: { x: 1528, y: 572, w: 152, h: 270, r0: 19, rh: 24.1, l0: 11, l1: 55, tx: 59, fs: 16, bold: false } },
  { key: 'E', labels: labelsE, colors: colors13, times: timesE, heights: heightsE, base: baseE,
    x0: 114.4, x60: 704, tEnd: 63, yB: 1460, vRef: 700, yRef: 1071.7, vTop: 720,
    tickPad: 9, titleDy: 52, title: 'retention time (min)', titleLen: 181, letter: [20, 1020], mu: [41, 1272],
    legend: { x: 725, y: 1032, w: 138, h: 291, r0: 19, rh: 21.3, l0: 10, l1: 49, tx: 53, fs: 14.5, bold: true } },
  { key: 'F', labels: labelsF, colors: colors13, times: timesF, heights: heightsF, base: baseF,
    x0: 963.3, x60: 1506.6, tEnd: 62, yB: 1416.7, vRef: 700, yRef: 1071.7, vTop: 740,
    tickPad: 5, titleDy: 46, title: 'retention time (min)', titleLen: 167, letter: [884, 1020], mu: [890, 1248],
    legend: { x: 1527, y: 1037.7, w: 151, h: 314, r0: 18.3, rh: 23.9, l0: 11, l1: 52, tx: 57.7, fs: 15.5, bold: true } },
  { key: 'G', labels: labelsG, colors: colors13, times: timesG, heights: heightsG, base: baseG,
    x0: 114.4, x60: 684, tEnd: 62, yB: 1954, vRef: 700, yRef: 1571.5, vTop: 705,
    tickPad: 6, titleDy: 48, title: 'retention time(min)', titleLen: 169, letter: [8, 1544], mu: [42, 1776],
    legend: { x: 700, y: 1551, w: 155, h: 331, r0: 20, rh: 25.1, l0: 16.6, l1: 60, tx: 64, fs: 16, bold: true } },
  { key: 'H', labels: labelsH, colors: colors13, times: timesH, heights: heightsH, base: baseH,
    x0: 955.3, x60: 1519.3, tEnd: 63, yB: 1947.8, vRef: 700, yRef: 1583.4, vTop: 740,
    tickPad: 5, titleDy: 47, title: 'rentention time(min)', titleLen: 182, letter: [871, 1543], mu: [884, 1771],
    legend: { x: 1535.7, y: 1547, w: 159, h: 333, r0: 21.8, rh: 25.1, l0: 12, l1: 57, tx: 61, fs: 16, bold: true } }
];

const PEAK_HALF_WIDTH = 0.32; // minutes

const svg = d3.select('#chart')
  .append('svg')
  .attr('width', 1698)
  .attr('height', 2009);

svg.append('rect').attr('width', 1698).attr('height', 2009).attr('fill', '#fff');

// Baseline knots interpolated by a polylinear d3 scale, plus triangular peaks
function sampleTrace(times, heights, base, tEnd) {
  const w = PEAK_HALF_WIDTH;
  const baseScale = d3.scaleLinear()
    .domain(base.map(d => d[0]))
    .range(base.map(d => d[1]))
    .clamp(true);
  const ts = new Set(base.map(d => d[0]));
  times.forEach((t, i) => {
    if (heights[i]) {
      ts.add(+(t - w).toFixed(3));
      ts.add(t);
      ts.add(+(t + w).toFixed(3));
    }
  });
  ts.add(tEnd);
  return [...ts]
    .filter(t => t >= 0 && t <= tEnd)
    .sort((a, b) => a - b)
    .map(t => {
      let v = baseScale(t);
      times.forEach((tp, i) => {
        const k = 1 - Math.abs(t - tp) / w;
        if (k > 0) v += heights[i] * k;
      });
      return [t, v];
    });
}

function drawPanel(p) {
  const xEndPx = p.x0 + (p.x60 - p.x0) * p.tEnd / 60;
  const x = d3.scaleLinear().domain([0, p.tEnd]).range([p.x0, xEndPx]);
  const yRefScale = d3.scaleLinear().domain([-50, p.vRef]).range([p.yB, p.yRef]);
  const y = d3.scaleLinear().domain([-50, p.vTop]).range([p.yB, yRefScale(p.vTop)]);

  const g = svg.append('g').attr('class', 'panel-' + p.key);

  // Clip traces to the axes frame
  const clipId = 'clip-' + p.key;
  g.append('clipPath').attr('id', clipId)
    .append('rect')
    .attr('x', p.x0)
    .attr('y', y(p.vTop) - 20)
    .attr('width', xEndPx - p.x0)
    .attr('height', p.yB - y(p.vTop) + 20);

  const line = d3.line()
    .x(d => x(d[0]))
    .y(d => y(d[1]))
    .curve(d3.curveMonotoneX);

  const traces = g.append('g').attr('clip-path', `url(#${clipId})`);
  p.labels.forEach((label, i) => {
    const pts = sampleTrace(p.times, p.heights[i], p.base[i], p.tEnd);
    traces.append('path')
      .attr('d', line(pts))
      .attr('fill', 'none')
      .attr('stroke', p.colors[i])
      .attr('stroke-width', 2.4)
      .attr('stroke-linejoin', 'round');
  });

  // Axes
  const yMajor = d3.range(0, p.vTop + 1, 100);
  const yMinor = d3.range(-50, p.vTop + 1, 100);
  const styleAxis = sel => {
    sel.selectAll('path, line').attr('stroke', '#222').attr('stroke-width', 2);
    sel.selectAll('text')
      .attr('font-family', '"Liberation Sans", Arial, sans-serif')
      .attr('font-size', 17)
      .attr('fill', '#333');
  };

  g.append('g')
    .attr('transform', `translate(${p.x0},0)`)
    .call(d3.axisLeft(y).tickValues(yMajor).tickFormat(d => String(d * 1000))
      .tickSize(7).tickSizeOuter(0).tickPadding(5))
    .call(styleAxis);
  g.append('g')
    .attr('transform', `translate(${p.x0},0)`)
    .call(d3.axisLeft(y).tickValues(yMinor).tickFormat('').tickSize(4).tickSizeOuter(0))
    .call(styleAxis);

  g.append('g')
    .attr('transform', `translate(0,${p.yB})`)
    .call(d3.axisBottom(x).tickValues([0, 20, 40, 60]).tickFormat(d3.format('d'))
      .tickSize(8).tickSizeOuter(0).tickPadding(p.tickPad))
    .call(styleAxis);
  g.append('g')
    .attr('transform', `translate(0,${p.yB})`)
    .call(d3.axisBottom(x).tickValues([10, 30, 50]).tickFormat('').tickSize(8).tickSizeOuter(0))
    .call(styleAxis);

  // Axis titles
  g.append('text')
    .attr('x', (p.x0 + xEndPx) / 2 + 5)
    .attr('y', p.yB + p.titleDy)
    .attr('text-anchor', 'middle')
    .attr('font-size', 18)
    .attr('fill', '#333')
    .attr('textLength', p.titleLen)
    .attr('lengthAdjust', 'spacingAndGlyphs')
    .text(p.title);

  g.append('text')
    .attr('transform', `translate(${p.mu[0]},${p.mu[1]}) rotate(-90)`)
    .attr('text-anchor', 'middle')
    .attr('font-size', 21)
    .attr('fill', '#333')
    .text('μV');

  // Panel letter
  g.append('text')
    .attr('x', p.letter[0])
    .attr('y', p.letter[1])
    .attr('font-size', 42)
    .attr('font-weight', 'bold')
    .attr('fill', '#111')
    .text(p.key);

  // Legend
  const L = p.legend;
  const lg = g.append('g').attr('transform', `translate(${L.x},${L.y})`);
  lg.append('rect')
    .attr('width', L.w)
    .attr('height', L.h)
    .attr('fill', '#fff')
    .attr('stroke', '#8a8a8a')
    .attr('stroke-width', 1.5);
  p.labels.forEach((label, i) => {
    const ry = L.r0 + i * L.rh;
    lg.append('line')
      .attr('x1', L.l0).attr('x2', L.l1)
      .attr('y1', ry).attr('y2', ry)
      .attr('stroke', p.colors[i])
      .attr('stroke-width', 3);
    lg.append('text')
      .attr('x', L.tx)
      .attr('y', ry + L.fs * 0.36)
      .attr('font-size', L.fs)
      .attr('font-weight', L.bold ? 'bold' : 'normal')
      .attr('fill', '#222')
      .text(label);
  });
}

panels.forEach(drawPanel);
</script>
</body>
</html>
